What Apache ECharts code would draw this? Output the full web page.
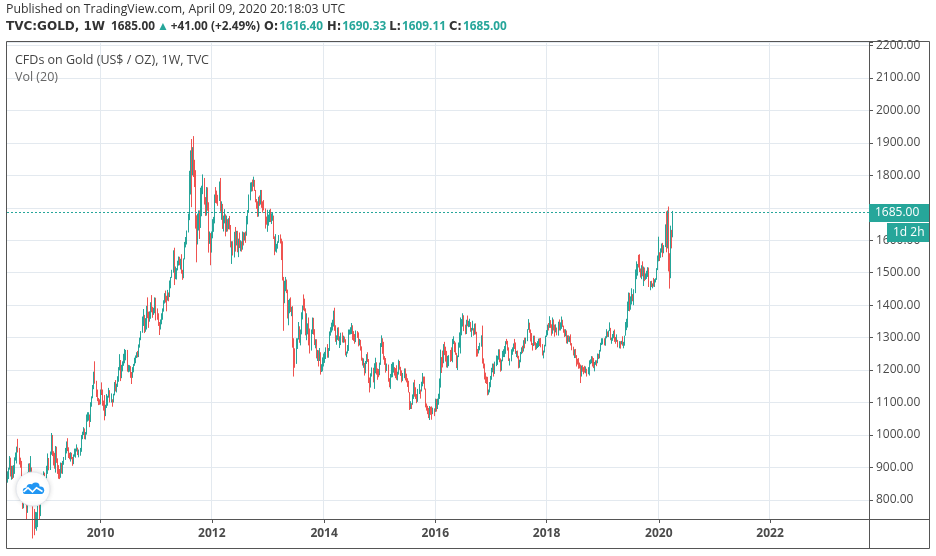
<!DOCTYPE html>
<html>
<head>
<meta charset="utf-8">
<title>TVC:GOLD, 1W</title>
<script src="https://cdn.jsdelivr.net/npm/echarts@6/dist/echarts.min.js"></script>
<style>
  html, body { margin: 0; padding: 0; background: #fff; }
  #chart { width: 936px; height: 556px; }
</style>
</head>
<body>
<div id="chart"></div>
<script>
// weekly bars, one row per week: [high, low, close]
// the open of each week is the previous week's close
const firstOpen = 855
const y2008 = [
  [888, 853, 884], [899, 864, 896], [935, 893, 925], [930, 872, 886],
  [905, 862, 901], [905, 864, 872], [907, 868, 904], [931, 880, 929],
  [946, 921, 932], [964, 912, 962], [988, 946, 956], [960, 909, 928],
  [930, 899, 912], [920, 859, 865], [870, 772, 786], [839, 774, 828], [840, 808, 833],
  [835, 785, 803], [813, 740, 763], [885, 760, 865], [912, 855, 885],
  [913, 823, 835], [935, 840, 898], [900, 781, 787], [800, 681, 732], [772, 691, 720],
  [763, 711, 737], [762, 705, 747], [803, 716, 799], [830, 793, 814],
  [822, 738, 752], [828, 750, 823], [880, 819, 838], [874, 831, 873],
  [888, 860, 879]
]
const y2009 = [
  [884, 841, 853], [862, 803, 838], [905, 830, 897], [943, 880, 928],
  [929, 891, 914], [949, 892, 942], [1006, 939, 1002], [1000, 935, 942],
  [950, 906, 940], [945, 896, 930], [966, 884, 953], [964, 914, 923],
  [928, 880, 899], [907, 865, 882], [895, 864, 870], [915, 868, 913],
  [914, 881, 883], [920, 880, 914], [932, 908, 930], [960, 923, 957], [980, 943, 979],
  [990, 950, 955], [962, 929, 938], [945, 925, 933], [947, 918, 940],
  [945, 925, 931], [932, 905, 913], [940, 910, 937], [958, 933, 950], [958, 930, 953],
  [971, 949, 958], [961, 938, 947], [955, 931, 953], [960, 936, 955],
  [1000, 948, 995], [1010, 987, 1006], [1024, 1000, 1013], [1020, 987, 991],
  [1009, 986, 1004], [1063, 1001, 1050], [1070, 1041, 1052], [1070, 1044, 1056], [1063, 1024, 1040],
  [1101, 1040, 1096], [1119, 1087, 1118], [1154, 1113, 1147], [1195, 1141, 1177],
  [1227, 1158, 1162], [1167, 1117, 1121], [1140, 1104, 1110], [1114, 1092, 1105],
  [1110, 1093, 1096]
]
const y2010 = [
  [1140, 1094, 1138], [1162, 1123, 1130], [1140, 1090, 1091], [1106, 1075, 1083],
  [1123, 1045, 1066], [1093, 1058, 1092], [1126, 1083, 1117], [1121, 1090, 1117],
  [1145, 1115, 1133], [1138, 1100, 1102], [1128, 1100, 1107], [1110, 1087, 1105],
  [1127, 1100, 1125], [1163, 1122, 1161], [1169, 1134, 1137], [1158, 1131, 1156], [1181, 1148, 1179],
  [1209, 1164, 1208], [1249, 1199, 1228], [1231, 1166, 1176], [1216, 1175, 1212],
  [1227, 1196, 1218], [1250, 1213, 1227], [1265, 1221, 1256], [1262, 1230, 1256],
  [1262, 1195, 1209], [1216, 1193, 1210], [1215, 1195, 1210], [1212, 1176, 1189], [1194, 1157, 1181],
  [1209, 1176, 1204], [1219, 1193, 1216], [1238, 1213, 1227], [1245, 1221, 1237],
  [1255, 1237, 1247], [1259, 1239, 1246], [1279, 1240, 1276], [1300, 1269, 1297],
  [1320, 1292, 1318], [1365, 1315, 1346], [1388, 1336, 1372], [1370, 1314, 1326], [1360, 1318, 1358],
  [1398, 1325, 1394], [1424, 1360, 1367], [1380, 1330, 1353], [1381, 1349, 1363],
  [1409, 1358, 1406], [1431, 1378, 1385], [1395, 1361, 1378], [1392, 1370, 1380], [1424, 1375, 1421]
]
const y2011 = [
  [1423, 1353, 1368], [1390, 1355, 1360], [1375, 1336, 1342], [1348, 1308, 1341],
  [1356, 1325, 1349], [1375, 1341, 1361], [1390, 1355, 1388], [1415, 1380, 1409],
  [1437, 1405, 1429], [1445, 1408, 1421], [1429, 1381, 1418], [1447, 1414, 1435],
  [1439, 1412, 1429], [1476, 1425, 1474], [1487, 1452, 1486], [1509, 1484, 1504], [1569, 1500, 1556],
  [1577, 1462, 1491], [1519, 1480, 1493], [1514, 1479, 1511], [1537, 1507, 1536],
  [1550, 1522, 1542], [1549, 1523, 1529], [1543, 1510, 1539], [1557, 1497, 1500],
  [1509, 1478, 1486], [1544, 1483, 1542], [1595, 1541, 1594], [1610, 1578, 1601], [1630, 1587, 1628],
  [1682, 1624, 1663], [1814, 1662, 1742], [1877, 1741, 1852], [1912, 1702, 1828],
  [1887, 1800, 1883], [1921, 1795, 1856], [1848, 1764, 1812], [1816, 1636, 1657], [1677, 1532, 1624],
  [1682, 1587, 1636], [1692, 1630, 1682], [1692, 1604, 1642], [1762, 1638, 1745],
  [1768, 1674, 1754], [1803, 1742, 1788], [1792, 1710, 1724], [1733, 1675, 1684],
  [1764, 1676, 1746], [1763, 1691, 1713], [1717, 1562, 1598], [1627, 1589, 1606], [1622, 1523, 1566]
]
const y2012 = [
  [1627, 1562, 1617], [1665, 1606, 1630], [1672, 1626, 1665], [1741, 1652, 1737],
  [1764, 1715, 1725], [1753, 1713, 1724], [1740, 1706, 1723], [1781, 1721, 1774],
  [1792, 1688, 1710], [1720, 1663, 1711], [1712, 1635, 1657], [1676, 1627, 1662], [1696, 1652, 1668],
  [1680, 1612, 1631], [1676, 1626, 1659], [1665, 1627, 1642], [1668, 1634, 1663],
  [1675, 1633, 1643], [1647, 1578, 1581], [1597, 1527, 1592], [1597, 1553, 1572],
  [1626, 1547, 1622], [1641, 1565, 1590], [1629, 1584, 1627], [1629, 1563, 1566], [1605, 1548, 1604],
  [1624, 1576, 1579], [1600, 1566, 1592], [1597, 1565, 1584], [1627, 1571, 1618],
  [1625, 1584, 1606], [1624, 1599, 1620], [1627, 1592, 1616], [1675, 1614, 1671], [1693, 1649, 1691],
  [1741, 1684, 1739], [1778, 1723, 1769], [1779, 1750, 1773], [1787, 1751, 1772],
  [1796, 1765, 1781], [1786, 1752, 1757], [1755, 1717, 1724], [1727, 1697, 1712],
  [1720, 1672, 1676], [1734, 1673, 1731], [1738, 1706, 1714], [1755, 1710, 1751], [1755, 1700, 1712],
  [1720, 1685, 1702], [1724, 1692, 1696], [1698, 1636, 1658], [1673, 1648, 1656],
  [1694, 1626, 1657]
]
const y2013 = [
  [1679, 1645, 1662], [1694, 1656, 1687], [1697, 1656, 1658],
  [1683, 1650, 1667], [1684, 1660, 1667], [1676, 1604, 1609], [1612, 1554, 1572],
  [1619, 1565, 1576], [1589, 1562, 1576], [1597, 1574, 1592], [1616, 1592, 1608], [1618, 1590, 1596],
  [1605, 1539, 1581], [1597, 1476, 1476], [1487, 1321, 1405], [1475, 1406, 1462],
  [1487, 1443, 1468], [1479, 1437, 1437], [1448, 1359, 1365], [1416, 1338, 1386], [1420, 1375, 1392],
  [1424, 1379, 1383], [1395, 1366, 1387], [1397, 1269, 1297], [1298, 1180, 1234],
  [1267, 1207, 1223], [1298, 1219, 1277], [1298, 1265, 1295], [1348, 1294, 1322],
  [1335, 1284, 1310], [1325, 1276, 1312], [1378, 1310, 1376], [1399, 1356, 1396], [1433, 1384, 1395],
  [1420, 1381, 1386], [1390, 1307, 1308], [1375, 1292, 1333], [1344, 1310, 1338],
  [1362, 1276, 1309], [1328, 1251, 1272], [1325, 1260, 1315], [1362, 1311, 1352],
  [1361, 1309, 1315], [1326, 1277, 1286], [1295, 1267, 1287], [1295, 1236, 1244], [1262, 1228, 1250],
  [1261, 1211, 1230], [1268, 1228, 1234], [1255, 1186, 1203], [1218, 1194, 1213],
  [1239, 1196, 1237]
]
const y2014 = [
  [1251, 1211, 1248], [1256, 1222, 1254], [1270, 1234, 1264], [1280, 1238, 1240],
  [1268, 1238, 1262], [1319, 1259, 1318], [1332, 1306, 1323], [1346, 1316, 1326],
  [1355, 1322, 1338], [1383, 1334, 1379], [1392, 1321, 1335], [1338, 1287, 1294],
  [1307, 1278, 1303], [1331, 1293, 1318], [1332, 1290, 1293], [1304, 1268, 1300],
  [1315, 1277, 1302], [1316, 1285, 1290], [1306, 1284, 1293], [1303, 1285, 1292], [1295, 1245, 1246],
  [1257, 1240, 1252], [1277, 1251, 1274], [1325, 1259, 1316], [1325, 1309, 1316],
  [1332, 1310, 1320], [1345, 1311, 1337], [1338, 1293, 1310], [1320, 1290, 1307],
  [1311, 1281, 1294], [1322, 1286, 1310], [1320, 1299, 1305], [1316, 1273, 1280], [1296, 1276, 1287],
  [1293, 1260, 1268], [1273, 1229, 1231], [1238, 1214, 1216], [1236, 1207, 1218],
  [1222, 1183, 1192], [1228, 1190, 1222], [1249, 1219, 1238], [1255, 1225, 1231], [1234, 1160, 1171],
  [1177, 1131, 1169], [1190, 1146, 1186], [1208, 1180, 1201], [1207, 1162, 1168],
  [1221, 1142, 1192], [1238, 1190, 1222], [1224, 1186, 1196], [1205, 1170, 1195],
  [1203, 1178, 1188]
]
const y2015 = [
  [1223, 1184, 1216], [1283, 1216, 1277], [1307, 1271, 1293], [1298, 1250, 1278],
  [1287, 1232, 1234], [1243, 1216, 1227], [1237, 1192, 1203], [1220, 1197, 1213],
  [1217, 1164, 1165], [1175, 1147, 1152], [1188, 1142, 1182], [1219, 1177, 1199],
  [1224, 1178, 1201], [1224, 1192, 1206], [1209, 1183, 1203], [1206, 1175, 1175],
  [1215, 1170, 1174], [1195, 1168, 1189], [1232, 1186, 1225], [1228, 1201, 1205], [1210, 1182, 1190],
  [1199, 1162, 1168], [1191, 1166, 1179], [1205, 1175, 1201], [1205, 1168, 1173],
  [1189, 1162, 1168], [1175, 1148, 1158], [1167, 1131, 1131], [1132, 1077, 1085], [1104, 1080, 1095],
  [1098, 1080, 1094], [1125, 1093, 1113], [1162, 1111, 1160], [1170, 1118, 1134],
  [1147, 1111, 1121], [1126, 1098, 1108], [1142, 1102, 1137], [1157, 1126, 1145],
  [1140, 1112, 1137], [1164, 1134, 1156], [1191, 1150, 1177], [1180, 1158, 1162], [1180, 1140, 1141],
  [1143, 1085, 1088], [1097, 1075, 1081], [1090, 1064, 1076], [1083, 1052, 1056],
  [1089, 1046, 1086], [1087, 1062, 1075], [1088, 1047, 1065], [1084, 1064, 1076],
  [1082, 1058, 1061]
]
const y2016 = [
  [1112, 1071, 1098], [1111, 1072, 1090], [1112, 1080, 1097], [1127, 1093, 1116],
  [1174, 1111, 1158], [1263, 1146, 1239], [1240, 1191, 1227], [1260, 1208, 1220],
  [1280, 1221, 1270], [1287, 1246, 1258], [1272, 1226, 1255], [1259, 1208, 1217],
  [1244, 1207, 1222], [1246, 1212, 1243], [1262, 1225, 1234], [1270, 1228, 1231], [1296, 1224, 1290],
  [1304, 1280, 1290], [1290, 1255, 1273], [1285, 1247, 1252], [1253, 1206, 1216],
  [1245, 1200, 1243], [1285, 1240, 1275], [1316, 1269, 1298], [1362, 1251, 1322],
  [1357, 1307, 1339], [1375, 1334, 1366], [1369, 1320, 1327], [1340, 1310, 1322], [1355, 1311, 1350],
  [1368, 1335, 1335], [1352, 1332, 1336], [1358, 1333, 1341], [1348, 1318, 1321],
  [1330, 1302, 1327], [1352, 1322, 1328], [1329, 1306, 1310], [1343, 1309, 1337], [1344, 1310, 1316],
  [1318, 1241, 1257], [1265, 1242, 1251], [1274, 1251, 1267], [1284, 1261, 1276],
  [1307, 1272, 1303], [1337, 1220, 1225], [1236, 1205, 1209], [1220, 1171, 1178],
  [1192, 1160, 1177], [1180, 1157, 1161], [1179, 1122, 1133], [1140, 1124, 1133], [1163, 1131, 1152]
]
const y2017 = [
  [1182, 1147, 1173], [1207, 1170, 1196], [1220, 1193, 1205], [1220, 1180, 1191],
  [1226, 1188, 1220], [1245, 1212, 1234], [1244, 1216, 1238], [1264, 1232, 1257],
  [1264, 1224, 1226], [1236, 1195, 1201], [1232, 1198, 1229], [1259, 1227, 1244], [1264, 1240, 1249],
  [1274, 1240, 1254], [1289, 1250, 1285], [1296, 1279, 1284], [1290, 1260, 1268],
  [1270, 1228, 1228], [1236, 1214, 1228], [1264, 1227, 1254], [1270, 1247, 1267],
  [1282, 1257, 1279], [1296, 1265, 1267], [1285, 1250, 1254], [1259, 1240, 1256], [1260, 1236, 1242],
  [1244, 1205, 1212], [1232, 1207, 1228], [1256, 1224, 1255], [1270, 1249, 1269],
  [1275, 1252, 1258], [1292, 1257, 1289], [1300, 1267, 1284], [1300, 1281, 1291],
  [1326, 1289, 1325], [1357, 1324, 1346], [1346, 1315, 1320], [1325, 1288, 1297], [1314, 1277, 1280],
  [1283, 1260, 1274], [1306, 1274, 1304], [1306, 1276, 1280], [1286, 1262, 1266],
  [1283, 1264, 1269], [1289, 1268, 1275], [1297, 1271, 1293], [1298, 1274, 1288],
  [1299, 1270, 1280], [1280, 1245, 1248], [1260, 1236, 1255], [1278, 1254, 1275], [1306, 1273, 1303]
]
const y2018 = [
  [1323, 1302, 1320], [1340, 1307, 1338], [1345, 1322, 1332], [1366, 1330, 1349],
  [1354, 1330, 1333], [1341, 1306, 1315], [1362, 1312, 1347], [1356, 1322, 1330],
  [1340, 1303, 1322], [1341, 1316, 1323], [1331, 1307, 1314], [1349, 1306, 1347], [1356, 1322, 1325],
  [1347, 1322, 1332], [1365, 1327, 1345], [1355, 1333, 1336], [1337, 1315, 1323],
  [1326, 1302, 1314], [1326, 1304, 1320], [1322, 1282, 1292], [1307, 1281, 1302],
  [1307, 1287, 1294], [1304, 1286, 1298], [1310, 1276, 1278], [1283, 1261, 1270], [1272, 1245, 1251],
  [1264, 1237, 1255], [1265, 1237, 1241], [1246, 1211, 1231], [1235, 1217, 1223],
  [1237, 1204, 1214], [1223, 1205, 1212], [1217, 1160, 1184], [1214, 1180, 1206], [1215, 1195, 1201],
  [1209, 1187, 1198], [1213, 1192, 1194], [1211, 1190, 1199], [1204, 1180, 1192],
  [1209, 1187, 1203], [1230, 1183, 1222], [1233, 1218, 1227], [1243, 1221, 1234],
  [1242, 1211, 1233], [1237, 1206, 1209], [1225, 1196, 1222], [1230, 1216, 1223], [1230, 1212, 1222],
  [1251, 1221, 1248], [1250, 1234, 1238], [1262, 1236, 1258], [1284, 1257, 1281],
  [1298, 1277, 1285]
]
const y2019 = [
  [1298, 1279, 1289], [1298, 1276, 1282], [1304, 1275, 1303],
  [1326, 1298, 1317], [1319, 1302, 1314], [1322, 1302, 1322], [1347, 1320, 1328],
  [1330, 1292, 1294], [1300, 1281, 1298], [1311, 1290, 1302], [1321, 1298, 1313], [1325, 1287, 1292],
  [1302, 1281, 1291], [1310, 1287, 1291], [1293, 1270, 1276], [1289, 1267, 1286],
  [1289, 1266, 1279], [1290, 1279, 1285], [1304, 1275, 1277], [1287, 1267, 1284], [1306, 1275, 1305],
  [1348, 1306, 1341], [1358, 1323, 1341], [1411, 1331, 1399], [1439, 1382, 1409],
  [1438, 1381, 1400], [1427, 1386, 1415], [1452, 1402, 1426], [1434, 1412, 1419],
  [1449, 1400, 1441], [1510, 1437, 1497], [1535, 1480, 1513], [1527, 1491, 1527], [1555, 1516, 1520],
  [1557, 1502, 1507], [1513, 1485, 1488], [1523, 1480, 1516], [1535, 1489, 1497],
  [1519, 1459, 1505], [1516, 1474, 1488], [1498, 1478, 1490], [1506, 1481, 1504],
  [1517, 1487, 1514], [1516, 1456, 1459], [1474, 1446, 1468], [1475, 1456, 1462], [1467, 1452, 1464],
  [1484, 1457, 1460], [1480, 1456, 1476], [1483, 1470, 1479], [1514, 1478, 1511],
  [1553, 1508, 1552]
]
const y2020 = [
  [1611, 1535, 1562], [1563, 1536, 1557], [1575, 1546, 1571], [1590, 1562, 1589],
  [1592, 1548, 1570], [1585, 1560, 1584], [1649, 1579, 1643], [1689, 1563, 1585],
  [1692, 1575, 1674], [1704, 1504, 1530], [1560, 1451, 1498], [1645, 1483, 1622],
  [1632, 1575, 1616.4], [1690.33, 1609.11, 1685.0]
]

// x axis: one slot per week, Monday dates, running past the data into empty space
const firstMonday = '2008-05-05'
const weekSlots = 806
const yearLabels = ['2010', '2012', '2014', '2016', '2018', '2020', '2022']
const lastClose = 1685.0
const timerText = '1d 2h'

const weekDates = []
const t0 = Date.parse(firstMonday + 'T00:00:00Z')
for (let i = 0; i < weekSlots; i++) {
  weekDates.push(new Date(t0 + i * 7 * 86400000).toISOString().slice(0, 10))
}
const isYearMark = (i) => {
  if (i === 0) return false
  const yr = weekDates[i].slice(0, 4)
  return yr !== weekDates[i - 1].slice(0, 4) && yearLabels.includes(yr)
}

const weeks = [].concat(y2008, y2009, y2010, y2011, y2012, y2013, y2014,
  y2015, y2016, y2017, y2018, y2019, y2020)
let prevClose = firstOpen
const candles = weeks.map(([h, l, c]) => {
  const o = prevClose
  prevClose = c
  return [o, c, l, h]
})

const UP = '#26a69a'
const DOWN = '#ef5350'
const FRAME = '#555'
const GRID = '#e3e9ef'
const FONT = 'Open Sans'
const BOLD = 'DejaVu Sans'

const chart = echarts.init(document.getElementById('chart'))

chart.setOption({
  animation: false,
  backgroundColor: '#fff',
  title: [
    {
      text: 'Published on TradingView.com, April 09, 2020 20:18:03 UTC',
      left: 6, top: 3, padding: 0,
      textStyle: { fontFamily: FONT, fontSize: 12.3, fontWeight: 'normal', color: '#333' }
    },
    {
      text: '{k|TVC:GOLD, 1W}{p|1685.00}{tri|▲}{n|+41.00 (+2.49%)}{k5|O:}{v|1616.40}{k5|H:}{v|1690.33}{k4|L:}{v|1609.11}{k4|C:}{v|1685.00}',
      left: 6, top: 21, padding: 0,
      textStyle: {
        rich: {
          k: { fontFamily: BOLD, fontSize: 12, fontWeight: 'bold', color: '#333' },
          k5: { fontFamily: BOLD, fontSize: 11.5, fontWeight: 'bold', color: '#333', padding: [0, 1, 0, 4] },
          k4: { fontFamily: BOLD, fontSize: 11.5, fontWeight: 'bold', color: '#333', padding: [0, 1, 0, 3] },
          p: { fontFamily: FONT, fontSize: 11.8, color: '#333', padding: [0, 0, 0, 6] },
          n: { fontFamily: FONT, fontSize: 11.8, color: '#333' },
          tri: { fontFamily: FONT, fontSize: 12, color: UP, padding: [0, 2, 0, 2] },
          v: { fontFamily: FONT, fontSize: 11.8, color: UP }
        }
      }
    },
    {
      text: 'CFDs on Gold (US$ / OZ), 1W, TVC',
      left: 15, top: 54, padding: 0,
      textStyle: { fontFamily: FONT, fontSize: 12.5, fontWeight: 'normal', color: '#444' }
    },
    {
      text: 'Vol (20)',
      left: 15, top: 71, padding: 0,
      textStyle: { fontFamily: FONT, fontSize: 12.5, fontWeight: 'normal', color: '#666' }
    }
  ],
  grid: { left: 7, right: 67, top: 42, bottom: 37 },
  xAxis: {
    type: 'category',
    data: weekDates,
    boundaryGap: true,
    axisLine: { show: false },
    axisTick: {
      show: true, alignWithLabel: true, length: 4,
      interval: (i) => isYearMark(i),
      lineStyle: { color: FRAME }
    },
    axisLabel: {
      interval: (i) => isYearMark(i),
      formatter: (v) => v.slice(0, 4),
      margin: 9,
      fontFamily: FONT, fontSize: 12, fontWeight: 'bold', color: '#4a4a4a'
    },
    splitLine: {
      show: true,
      interval: (i) => isYearMark(i),
      lineStyle: { color: GRID, width: 1 }
    }
  },
  yAxis: {
    type: 'value',
    position: 'right',
    min: 741,
    max: 2211,
    splitNumber: 15,
    axisLine: { show: false },
    axisTick: { show: true, length: 4, lineStyle: { color: FRAME } },
    axisLabel: {
      margin: 7,
      // round levels only; the one under the last-price tag is hidden like on the source
      formatter: (v) => (v % 100 === 0 && Math.abs(v - lastClose) > 30 ? v.toFixed(2) : ''),
      fontFamily: FONT, fontSize: 12, color: '#4a4a4a'
    },
    splitLine: { show: true, lineStyle: { color: GRID, width: 1 } }
  },
  series: [{
    type: 'candlestick',
    data: candles,
    large: false,
    barWidth: 1,
    clip: true,
    itemStyle: {
      color: UP, color0: DOWN,
      borderColor: UP, borderColor0: DOWN,
      borderWidth: 1
    },
    markLine: {
      silent: true,
      symbol: 'none',
      label: { show: false },
      lineStyle: { color: UP, type: [2, 2], width: 1 },
      data: [{ yAxis: lastClose }]
    }
  }]
})

// frame, price tag and logo
const py = Math.round(chart.convertToPixel({ yAxisIndex: 0 }, lastClose))
chart.setOption({
  graphic: [
    {
      type: 'rect', silent: true, z: 100,
      shape: { x: 6.5, y: 41.5, width: 923, height: 507 },
      style: { fill: 'none', stroke: FRAME, lineWidth: 1 }
    },
    {
      type: 'line', silent: true, z: 100,
      shape: { x1: 869.5, y1: 41.5, x2: 869.5, y2: 548.5 },
      style: { stroke: FRAME, lineWidth: 1 }
    },
    {
      type: 'line', silent: true, z: 100,
      shape: { x1: 6.5, y1: 519.5, x2: 929.5, y2: 519.5 },
      style: { stroke: FRAME, lineWidth: 1 }
    },
    {
      type: 'rect', silent: true, z: 100,
      shape: { x: 869, y: py - 9, width: 60, height: 18 },
      style: { fill: UP }
    },
    {
      type: 'text', silent: true, z: 101, x: 875, y: py,
      style: {
        text: lastClose.toFixed(2), fill: '#fff',
        font: '12px "Open Sans"', verticalAlign: 'middle'
      }
    },
    {
      type: 'rect', silent: true, z: 100,
      shape: { x: 887, y: py + 10, width: 42, height: 19 },
      style: { fill: UP }
    },
    {
      type: 'text', silent: true, z: 101, x: 893, y: py + 19.5,
      style: {
        text: timerText, fill: '#fff',
        font: '12px "Open Sans"', verticalAlign: 'middle'
      }
    },
    {
      type: 'circle', silent: true, z: 100,
      shape: { cx: 33, cy: 489, r: 17 },
      style: {
        fill: '#fff', stroke: '#e3e6ec', lineWidth: 1,
        shadowBlur: 5, shadowColor: 'rgba(0,0,0,0.12)'
      }
    },
    // cloud icon
    { type: 'rect', silent: true, z: 101, shape: { x: 23, y: 489, width: 20, height: 5, r: 2 }, style: { fill: '#2196f3' } },
    { type: 'circle', silent: true, z: 101, shape: { cx: 25.8, cy: 490.8, r: 3 }, style: { fill: '#2196f3' } },
    { type: 'circle', silent: true, z: 101, shape: { cx: 30.2, cy: 487.6, r: 3.6 }, style: { fill: '#2196f3' } },
    { type: 'circle', silent: true, z: 101, shape: { cx: 35.6, cy: 486.6, r: 4 }, style: { fill: '#2196f3' } },
    { type: 'circle', silent: true, z: 101, shape: { cx: 40.4, cy: 490.2, r: 3.8 }, style: { fill: '#2196f3' } },
    {
      type: 'polyline', silent: true, z: 102,
      shape: { points: [[23.5, 491.8], [28, 487.8], [32.5, 491.8], [36.5, 487.8], [42.5, 491.5]] },
      style: { stroke: '#fff', lineWidth: 1.6, fill: 'none' }
    }
  ]
})

window.addEventListener('resize', () => chart.resize())
</script>
</body>
</html>
